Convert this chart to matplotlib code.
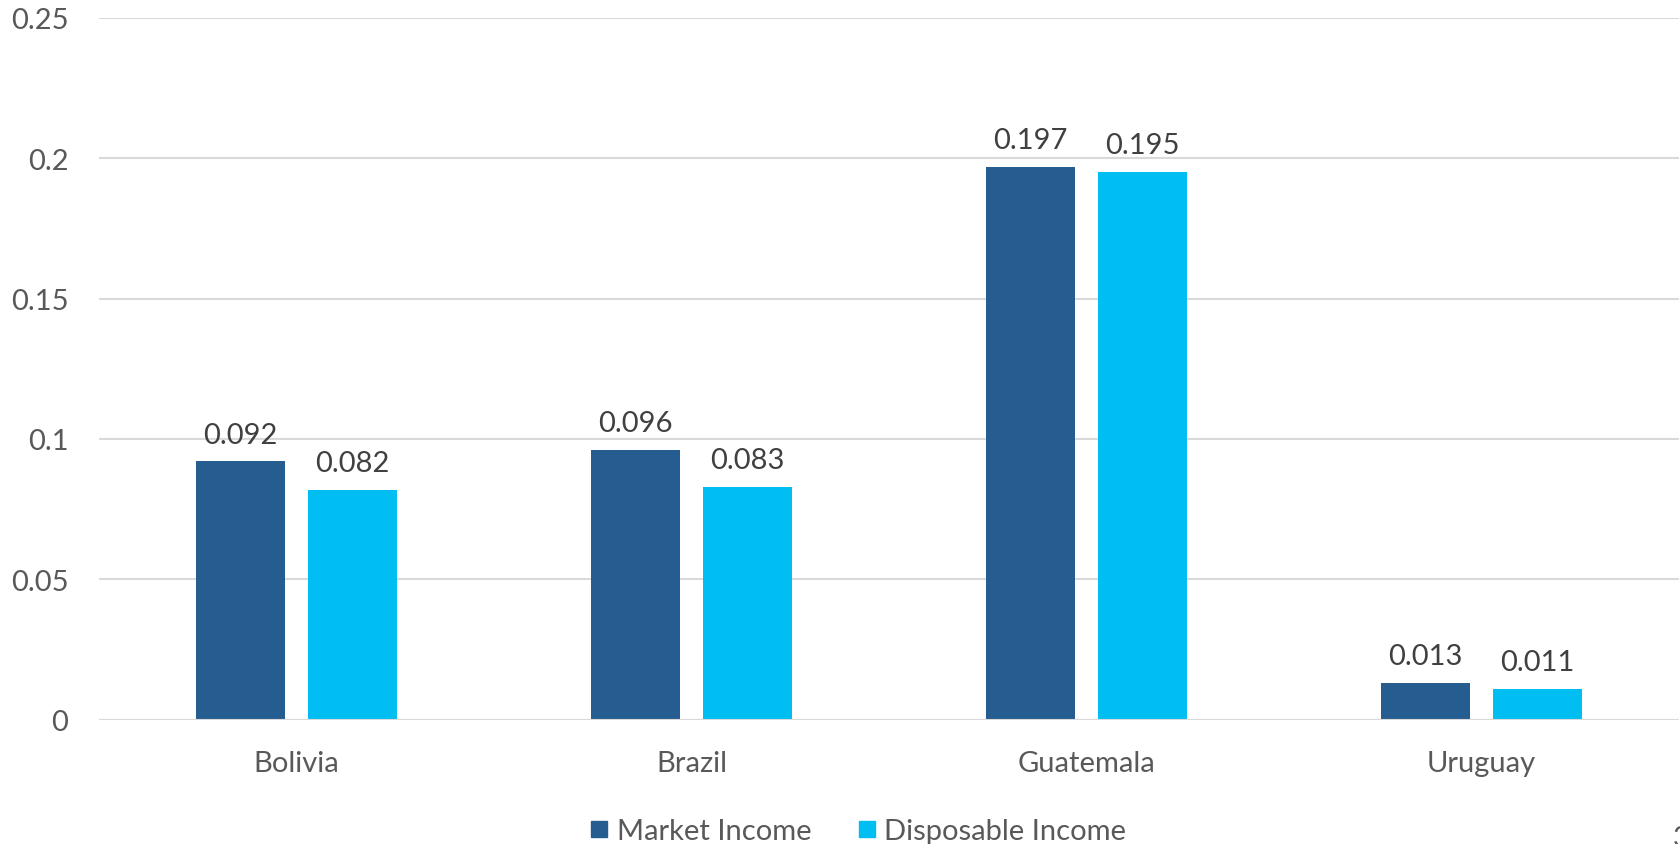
import matplotlib.pyplot as plt
import numpy as np
from matplotlib.lines import Line2D

# Data
countries = ['Bolivia', 'Brazil', 'Guatemala', 'Uruguay']
market_income = [0.092, 0.096, 0.197, 0.013]
disposable_income = [0.082, 0.083, 0.195, 0.011]
series_names = ['Market Income', 'Disposable Income']
yticks = [0, 0.05, 0.1, 0.15, 0.2, 0.25]
ytick_labels = ['0', '0.05', '0.1', '0.15', '0.2', '0.25']

dark_blue = '#265D90'
cyan = '#00BEF2'
text_col = '#595959'
grid_col = '#D9D9D9'

plt.rcParams['font.family'] = ['Lato', 'DejaVu Sans']

fig = plt.figure(figsize=(16.8, 8.45), dpi=100)
ax = fig.add_axes([0.0589, 0.147, 0.9405, 0.8308])

x = np.arange(len(countries))
w = 0.225
off = 0.142
b1 = ax.bar(x - off, market_income, w, color=dark_blue, zorder=3)
b2 = ax.bar(x + off, disposable_income, w, color=cyan, zorder=3)

for bars, vals in [(b1, market_income), (b2, disposable_income)]:
    for rect, v in zip(bars, vals):
        ax.annotate(f'{v:g}', (rect.get_x() + rect.get_width() / 2, v),
                    xytext=(0, 10), textcoords='offset points',
                    ha='center', va='bottom', fontsize=21, color='#404040')

ax.set_xlim(-0.5, len(countries) - 0.5)
ax.set_ylim(0, 0.25)
ax.set_yticks(yticks)
ax.set_yticklabels(ytick_labels)
ax.set_xticks(x)
ax.set_xticklabels(countries)
ax.tick_params(axis='y', length=0, pad=22, labelsize=21, labelcolor=text_col)
ax.tick_params(axis='x', length=0, pad=22, labelsize=21, labelcolor=text_col)
ax.grid(axis='y', color=grid_col, linewidth=1.5, zorder=0)
for s in ax.spines.values():
    s.set_visible(False)
ax.axhline(0, color=grid_col, linewidth=1.5, zorder=4)

handles = [Line2D([], [], marker='s', linestyle='', color=dark_blue, markersize=12),
           Line2D([], [], marker='s', linestyle='', color=cyan, markersize=12)]
leg = fig.legend(handles, series_names, loc='center', bbox_to_anchor=(0.511, 0.015),
                 ncol=2, frameon=False, fontsize=21, handlelength=0.6,
                 handletextpad=0.3, columnspacing=1.6, labelcolor=text_col)

fig.text(0.9955, -0.008, '3', ha='left', va='bottom', fontsize=21, color=text_col)

fig.savefig('out.png', dpi=100)
